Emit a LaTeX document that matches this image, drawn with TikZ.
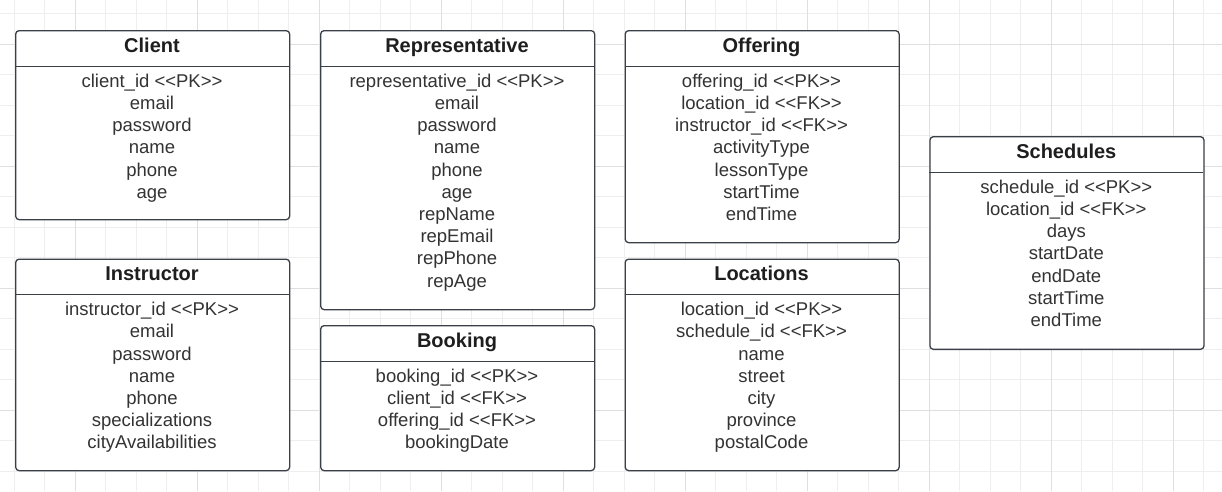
\documentclass[tikz,border=0pt]{standalone}
\usepackage{fontspec}
\setmainfont{Liberation Sans}
\definecolor{gridminor}{HTML}{EEEEEE}
\definecolor{gridmajor}{HTML}{DFDFDF}
\definecolor{boxline}{HTML}{3A4048}
\definecolor{attrtext}{HTML}{333333}
\definecolor{titletext}{HTML}{1E1E1E}
\newcommand\ltlt{\mbox{<}\kern0pt\mbox{<}}
\newcommand\gtgt{\mbox{>}\kern0pt\mbox{>}}
\newcommand\pkmark{\ltlt PK\gtgt}
\newcommand\fkmark{\ltlt FK\gtgt}
\tikzset{
  entbox/.style={draw=boxline, line width=1.3pt, rounded corners=3.5pt, fill=white,
    minimum width=274pt, inner sep=0pt, anchor=north west},
  enttitle/.style={font=\fontsize{20}{24}\selectfont\bfseries, text=titletext,
    text height=14.5pt, text depth=4pt, inner sep=0pt},
  entattr/.style={font=\fontsize{18.5}{22}\selectfont, text=attrtext,
    text height=13.3pt, text depth=3.9pt, inner sep=0pt},
  divider/.style={draw=boxline, line width=1.3pt},
  gridminorline/.style={draw=gridminor, line width=0.9pt},
  gridmajorline/.style={draw=gridmajor, line width=0.9pt},
}
% #1 name, #2 left x, #3 top y, #4 bottom y, #5 title, #6 attributes
\newcommand\drawentity[6]{%
  \pgfmathsetmacro\enth{#4-#3}%
  \pgfmathsetmacro\entcx{#2+137}%
  \pgfmathsetmacro\entty{#3+17}%
  \pgfmathsetmacro\entdy{#3+36.3}%
  \node[entbox, minimum height=\enth pt] (#1) at (#2,#3) {};
  \coordinate (#1-dl) at (#2,\entdy);
  \coordinate (#1-dr) at (#2+274,\entdy);
  \draw[divider] (#1-dl) -- (#1-dr);
  \node[enttitle] (#1-title) at (\entcx,\entty) {#5};
  \foreach \a [count=\i] in {#6} {
    \pgfmathsetmacro\entay{#3+52.5+(\i-1)*22.2}
    \node[entattr] (#1-\i) at (\entcx,\entay) {\a};
  }%
}
\begin{document}
\begin{tikzpicture}[x=1pt,y=-1pt]
\useasboundingbox (0,0) rectangle (1222,491);
\fill[white] (0,0) rectangle (1222,491);
% grid
\foreach \k in {0,...,39} {\draw[gridminorline] (14.3+30.5*\k,0) -- (14.3+30.5*\k,491);}
\foreach \k in {0,...,15} {\draw[gridminorline] (0,13.5+30.5*\k) -- (1222,13.5+30.5*\k);}
\foreach \k in {0,...,9} {\draw[gridmajorline] (75.3+122*\k,0) -- (75.3+122*\k,491);}
\foreach \k in {0,...,3} {\draw[gridmajorline] (0,44+122*\k) -- (1222,44+122*\k);}
% entities
\drawentity{client}{15}{30}{219}{Client}{client\_id \pkmark, email, password, name, phone, age}
\drawentity{rep}{320}{30}{309}{Representative}{representative\_id \pkmark, email, password, name, phone, age, repName, repEmail, repPhone, repAge}
\drawentity{offering}{624.5}{30}{242}{Offering}{offering\_id \pkmark, location\_id \fkmark, instructor\_id \fkmark, activityType, lessonType, startTime, endTime}
\drawentity{instructor}{15}{258.5}{470}{Instructor}{instructor\_id \pkmark, email, password, name, phone, specializations, cityAvailabilities}
\drawentity{booking}{320}{325}{470}{Booking}{booking\_id \pkmark, client\_id \fkmark, offering\_id \fkmark, bookingDate}
\drawentity{locations}{624.5}{258.5}{470}{Locations}{location\_id \pkmark, schedule\_id \fkmark, name, street, city, province, postalCode}
\drawentity{schedules}{929.3}{136}{348.7}{Schedules}{schedule\_id \pkmark, location\_id \fkmark, days, startDate, endDate, startTime, endTime}
\end{tikzpicture}
\end{document}
